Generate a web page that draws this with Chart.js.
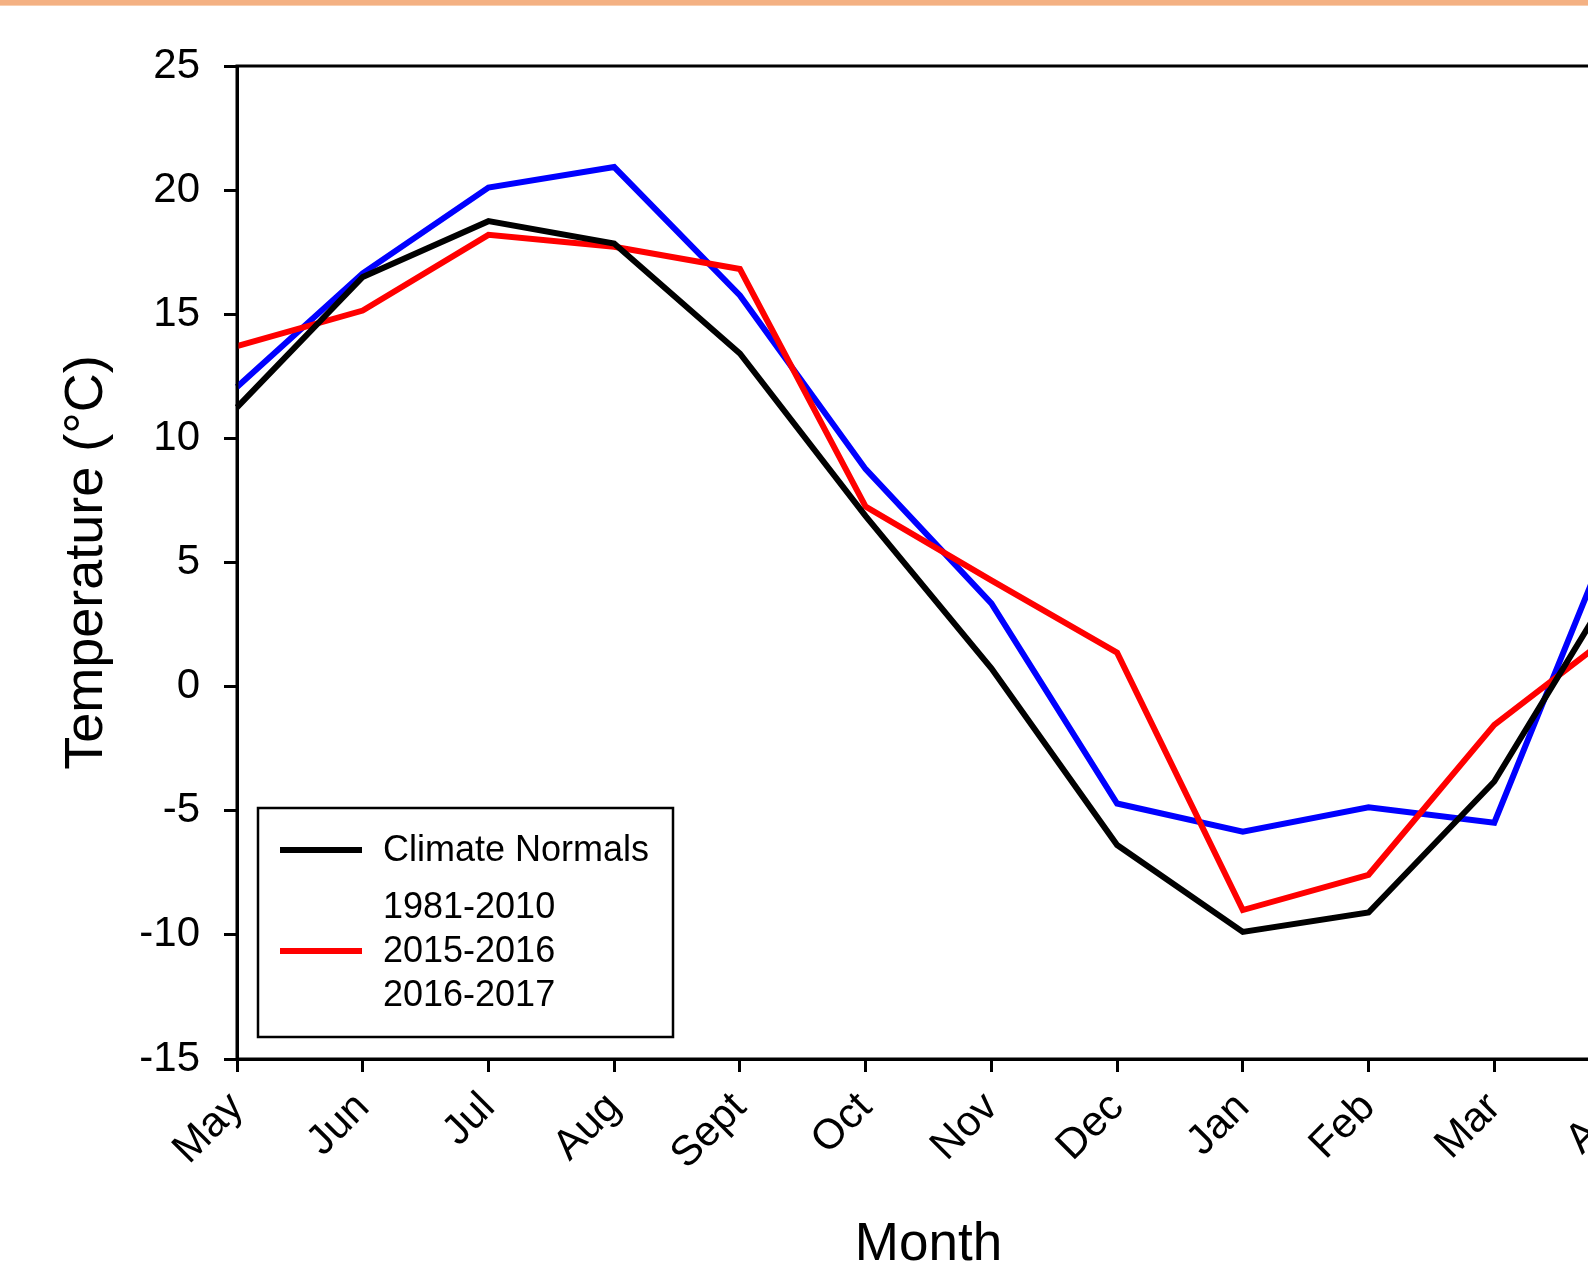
<!DOCTYPE html>
<html lang="en">
<head>
  <meta charset="UTF-8" />
  <title>Monthly Temperature</title>
  <script src="https://cdn.jsdelivr.net/npm/chart.js"></script>
  <style>
    body {
      margin: 0;
      background: #ffffff;
      overflow: hidden;
      width: 1588px;
      height: 1274px;
    }
    .top-band {
      position: absolute;
      top: 0;
      left: 0;
      width: 100%;
      height: 5px;
      background: #f4b183;
      border-bottom: 1px solid #f8cfb0;
      z-index: 2;
    }
    #tempChart {
      position: absolute;
      top: 0;
      left: 0;
    }
  </style>
</head>
<body>
  <div class="top-band"></div>
  <canvas id="tempChart" width="1700" height="1274"></canvas>

  <script>
    const months = ["May", "Jun", "Jul", "Aug", "Sept", "Oct", "Nov", "Dec", "Jan", "Feb", "Mar", "Apr"];
    const normals = [11.25, 16.5, 18.75, 17.85, 13.42, 6.87, 0.74, -6.38, -9.88, -9.1, -3.82, 4.5];
    const season1516 = [13.72, 15.15, 18.2, 17.72, 16.82, 7.25, 4.28, 1.37, -9.0, -7.58, -1.54, 2.35];
    const season1617 = [12.07, 16.65, 20.1, 20.93, 15.76, 8.76, 3.35, -4.71, -5.84, -4.86, -5.48, 7.0];
    const yTicks = [25, 20, 15, 10, 5, 0, -5, -10, -15];

    // legend rows as in the original: text, and which dataset's line (if any) sits beside it
    const legendRows = ["Climate Normals", "1981-2010", "2015-2016", "2016-2017"];
    const legendSample = [0, null, 1, null];

    const FONT = "'Liberation Sans', Arial, sans-serif";

    const framePlugin = {
      id: "frame",
      afterDraw(chart) {
        const { ctx, chartArea: a } = chart;
        ctx.save();
        ctx.strokeStyle = "#000";
        ctx.lineWidth = 3;
        ctx.strokeRect(a.left, a.top, a.right - a.left, a.bottom - a.top);
        ctx.restore();
      }
    };

    const boxLegend = {
      id: "boxLegend",
      afterDraw(chart) {
        const { ctx, chartArea: a } = chart;
        const x0 = a.left + 21, y1 = a.bottom - 22;
        const w = 415, h = 229, y0 = y1 - h;
        ctx.save();
        ctx.strokeStyle = "#000";
        ctx.lineWidth = 2.5;
        ctx.strokeRect(x0, y0, w, h);
        const rowY = [43, 100, 144, 188];
        ctx.font = "36px " + FONT;
        ctx.textBaseline = "middle";
        ctx.textAlign = "left";
        legendRows.forEach((txt, i) => {
          const y = y0 + rowY[i];
          const ds = legendSample[i];
          if (ds !== null) {
            ctx.strokeStyle = chart.data.datasets[ds].borderColor;
            ctx.lineWidth = 6;
            ctx.beginPath();
            ctx.moveTo(x0 + 22, y - 1);
            ctx.lineTo(x0 + 104, y - 1);
            ctx.stroke();
          }
          ctx.fillStyle = "#000";
          ctx.fillText(txt, x0 + 125, y);
        });
        ctx.restore();
      }
    };

    function line(label, data, color) {
      return {
        label: label,
        data: data,
        borderColor: color,
        backgroundColor: color,
        borderWidth: 6,
        pointRadius: 0,
        tension: 0,
        fill: false
      };
    }

    window.onload = function () {
      const ctx = document.getElementById("tempChart").getContext("2d");
      new Chart(ctx, {
        type: "line",
        data: {
          labels: months,
          datasets: [
            line("Climate Normals 1981-2010", normals, "#000000"),
            line("2015-2016", season1516, "#ff0000"),
            line("2016-2017", season1617, "#0000ff")
          ]
        },
        options: {
          responsive: false,
          animation: false,
          layout: { padding: { top: 66, right: 80, bottom: 0, left: 0 } },
          plugins: {
            legend: { display: false },
            tooltip: { enabled: false }
          },
          scales: {
            x: {
              offset: false,
              grid: { display: true, drawOnChartArea: false, drawTicks: true, tickLength: 13, color: "#000", lineWidth: 3 },
              border: { display: true, color: "#000", width: 3 },
              ticks: {
                color: "#000",
                font: { family: FONT, size: 42 },
                minRotation: 45,
                maxRotation: 45,
                autoSkip: false,
                padding: 11
              },
              title: {
                display: true,
                text: "Month",
                color: "#000",
                font: { family: FONT, size: 53, lineHeight: 1 },
                padding: { top: 0, bottom: 2 }
              },
              afterFit(s) { s.height = 215; s.paddingLeft = 0; s.paddingRight = 0; }
            },
            y: {
              min: -15,
              max: 25,
              grid: { display: true, drawOnChartArea: false, drawTicks: true, tickLength: 13, color: "#000", lineWidth: 3 },
              border: { display: true, color: "#000", width: 3 },
              afterBuildTicks(s) { s.ticks = yTicks.map(v => ({ value: v })); },
              ticks: {
                color: "#000",
                font: { family: FONT, size: 42 },
                padding: 24
              },
              title: {
                display: true,
                text: "Temperature (°C)",
                color: "#000",
                font: { family: FONT, size: 54, lineHeight: 1 },
                padding: { top: 60, bottom: 0 }
              },
              afterFit(s) { s.width = 237; s.paddingTop = 0; s.paddingBottom = 0; }
            }
          }
        },
        plugins: [framePlugin, boxLegend]
      });
    };
  </script>
</body>
</html>
